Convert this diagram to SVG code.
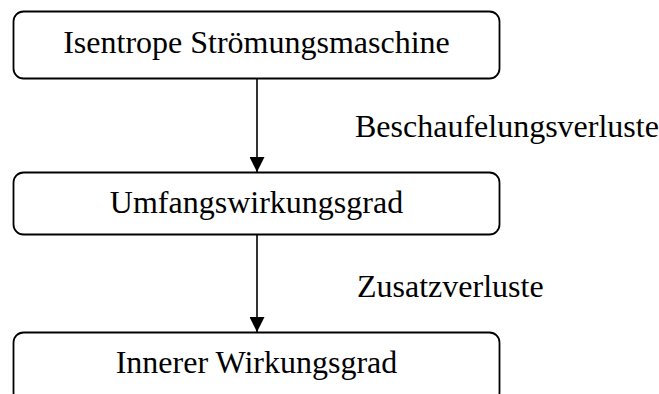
<svg xmlns="http://www.w3.org/2000/svg" width="659" height="394" viewBox="0 0 659 394">
<style>
.box{fill:#fff;stroke:#000;stroke-width:1.8}
.t{font-family:"Liberation Serif","Times New Roman",serif;font-size:32px;fill:#000}
.c{text-anchor:middle}
.ln{stroke:#000;stroke-width:1.6;fill:none}
</style>
<defs>
<marker id="ah" viewBox="0 0 15 15" refX="15" refY="7.5" markerWidth="15" markerHeight="15" markerUnits="userSpaceOnUse" orient="auto">
<path d="M0,0 L15,7.5 L0,15 Z" fill="#000"/>
</marker>
</defs>
<g id="connectors">
<line class="ln" x1="257" y1="79" x2="257" y2="172" marker-end="url(#ah)"/>
<line class="ln" x1="257" y1="235" x2="257" y2="332" marker-end="url(#ah)"/>
<text class="t" x="355" y="137">Beschaufelungsverluste</text>
<text class="t" x="357" y="297">Zusatzverluste</text>
</g>
<g id="node1">
<rect class="box" x="13.5" y="11.5" width="486" height="67" rx="10"/>
<text class="t c" x="256.5" y="53">Isentrope Strömungsmaschine</text>
</g>
<g id="node2">
<rect class="box" x="13.5" y="172.5" width="486" height="62" rx="10"/>
<text class="t c" x="256.5" y="213">Umfangswirkungsgrad</text>
</g>
<g id="node3">
<rect class="box" x="13.5" y="332.5" width="486" height="70" rx="10"/>
<text class="t c" x="256.5" y="373">Innerer Wirkungsgrad</text>
</g>
</svg>
